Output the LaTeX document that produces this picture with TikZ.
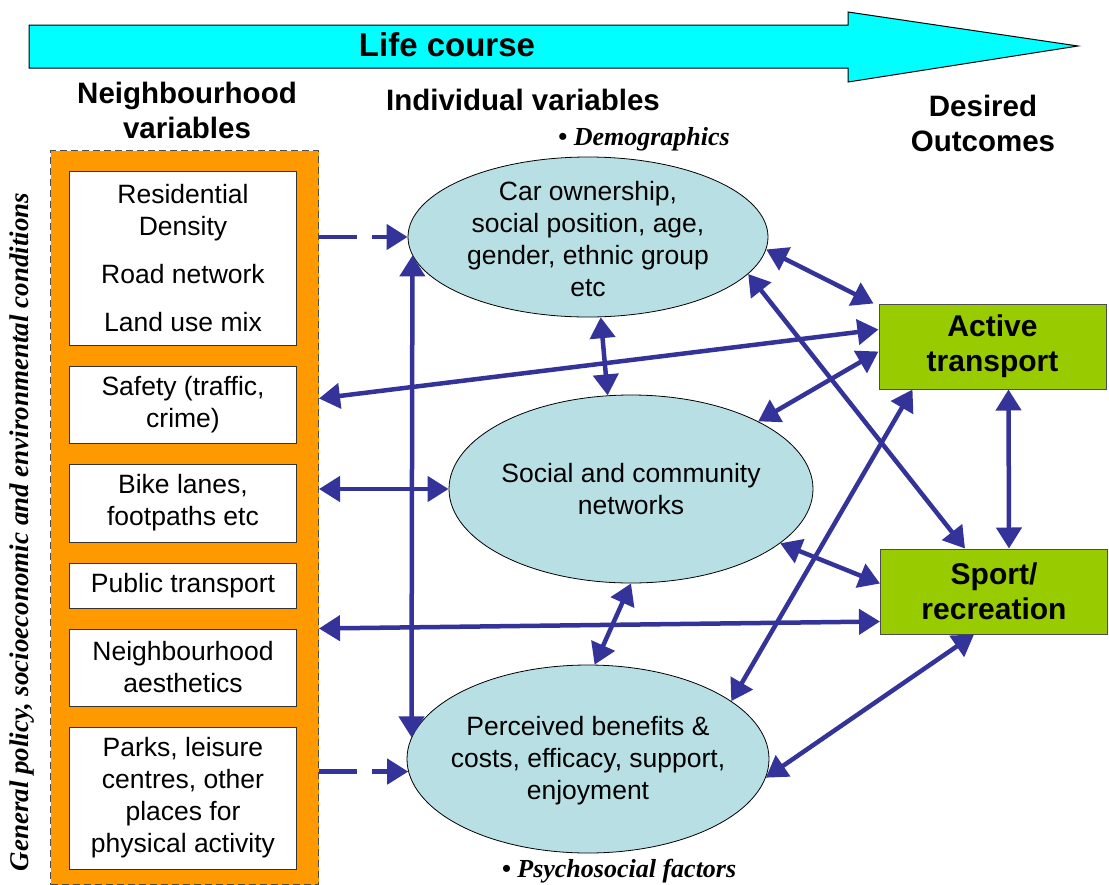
\documentclass[tikz,border=0pt]{standalone}
\usepackage{fontspec}
\setmainfont{Liberation Sans}
\newfontfamily\timesfont{Liberation Serif}
\usetikzlibrary{shapes.geometric,positioning,arrows.meta,calc}
\definecolor{arrowblue}{HTML}{333399}
\definecolor{ovalfill}{HTML}{B8E0E4}
\definecolor{nbhdorange}{HTML}{FF9900}
\definecolor{outcomegreen}{HTML}{99CC00}
\definecolor{lifecyan}{HTML}{00FFFF}
\tikzset{
  varbox/.style={draw=black!80, fill=white, line width=1pt, minimum width=227pt, inner sep=4pt, align=center, font=\fontsize{26.5}{32}\selectfont},
  oval/.style={ellipse, draw, fill=ovalfill, line width=0.8pt, inner sep=0pt},
  ovaltext/.style={align=center, font=\fontsize{26.5}{32}\selectfont},
  outcome/.style={draw=black!70, fill=outcomegreen, line width=1pt, minimum width=227pt, minimum height=85pt, align=center, font=\bfseries\fontsize{30}{35}\selectfont},
  heading/.style={align=center, font=\bfseries\fontsize{29.5}{35}\selectfont},
  bulletlbl/.style={font=\timesfont\bfseries\itshape\fontsize{26}{30}\selectfont},
  twoway/.style={{Triangle[length=21pt,width=25pt]}-{Triangle[length=21pt,width=25pt]}, arrowblue, line width=4.5pt},
  oneway/.style={-{Triangle[length=21pt,width=25pt]}, arrowblue, line width=4.5pt, dash pattern=on 38pt off 15pt}
}
\begin{document}
\begin{tikzpicture}[x=1pt,y=-1pt]
    \useasboundingbox (0,0) rectangle (1109,884);
    % life course arrow
    \draw[fill=lifecyan, line width=1pt] (29,25) -- (848,25) -- (848,12) -- (1078,46) -- (848,82) -- (848,68) -- (29,68) -- cycle;
    \node[font=\bfseries\fontsize{33}{40}\selectfont] (life) at (447,45) {Life course};
    \node[heading] (nbhdhead) at (187,110) {Neighbourhood\\variables};
    \node[heading] (indivhead) at (523,100) {Individual variables};
    \node[heading] (outhead) at (983,123) {Desired\\Outcomes};
    % neighbourhood column
    \node[draw=black!70, line width=1pt, dash pattern=on 7pt off 4pt, fill=nbhdorange, minimum width=268pt, minimum height=734pt, anchor=north west, inner sep=0pt] (nbhd) at (50,150) {};
    \node[rotate=90, font=\timesfont\bfseries\itshape\fontsize{27}{30}\selectfont] (policy) at (22,532) {General policy, socioeconomic and environmental conditions};
    \node[varbox, minimum height=174pt] (resdens) at (183,258) {Residential\\Density\\[16pt]Road network\\[16pt]Land use mix};
    \node[varbox, minimum height=77pt, below=20pt of resdens] (safety) {Safety (traffic,\\crime)};
    \node[varbox, minimum height=78pt, below=20pt of safety] (bike) {Bike lanes,\\footpaths etc};
    \node[varbox, minimum height=45pt, below=20pt of bike] (pubtrans) {Public transport};
    \node[varbox, minimum height=77pt, below=20pt of pubtrans] (aesth) {Neighbourhood\\aesthetics};
    \node[varbox, minimum height=142pt, below=20pt of aesth] (parks) {Parks, leisure\\centres, other\\places for\\physical activity};
    % individual variables
    \node[oval, minimum width=360pt, minimum height=160pt, label={[ovaltext,yshift=-2pt]center:Car ownership,\\social position, age,\\gender, ethnic group\\etc}] (demog) at (588,237) {};
    \node[oval, minimum width=364pt, minimum height=188pt, label={[ovaltext]center:Social and community\\networks}] (social) at (631,489) {};
    \node[oval, minimum width=362pt, minimum height=188pt, label={[ovaltext,yshift=-2pt]center:Perceived benefits \&\\costs, efficacy, support,\\enjoyment}] (psych) at (588,759) {};
    \node[bulletlbl] (demoglbl) at (644,139) {\textbullet\ Demographics};
    \node[bulletlbl] (psychlbl) at (619,871) {\textbullet\ Psychosocial factors};
    % outcomes
    \node[outcome] (active) at (992.5,346.5) {Active\\transport};
    \node[outcome] (sport) at (994,591.5) {Sport/\\recreation};
    % links
    \draw[oneway] (nbhd.east |- demog.west) -- (demog.west);
    \draw[oneway] (nbhd.east |- psych.184) -- (psych.184);
    \draw[twoway] (demog.186) -- (psych.173);
    \draw[twoway] (demog.-81) -- (social.104);
    \draw[twoway] (demog.-4) -- ([xshift=-5pt]active.north west);
    \draw[twoway] (demog.-13) -- ([xshift=-29pt]sport.north);
    \draw[twoway] ($(nbhd.east |- safety.east)+(0,-6)$) -- ([yshift=17pt]active.west);
    \draw[twoway] (nbhd.east |- social.west) -- (social.west);
    \draw[twoway] (nbhd.east |- aesth.north) -- ([yshift=-30pt]sport.west);
    \draw[twoway] (social.28) -- ([yshift=-5pt]active.west);
    \draw[twoway] ([xshift=16pt]active.south) -- ([xshift=15pt]sport.north);
    \draw[twoway] (social.-20) -- ([yshift=8pt]sport.west);
    \draw[twoway] (psych.22) -- ([xshift=-80pt]active.south);
    \draw[twoway] (social.-90) -- (psych.86);
    \draw[twoway] (psych.-6) -- ([xshift=-20pt]sport.south);
\end{tikzpicture}
\end{document}
